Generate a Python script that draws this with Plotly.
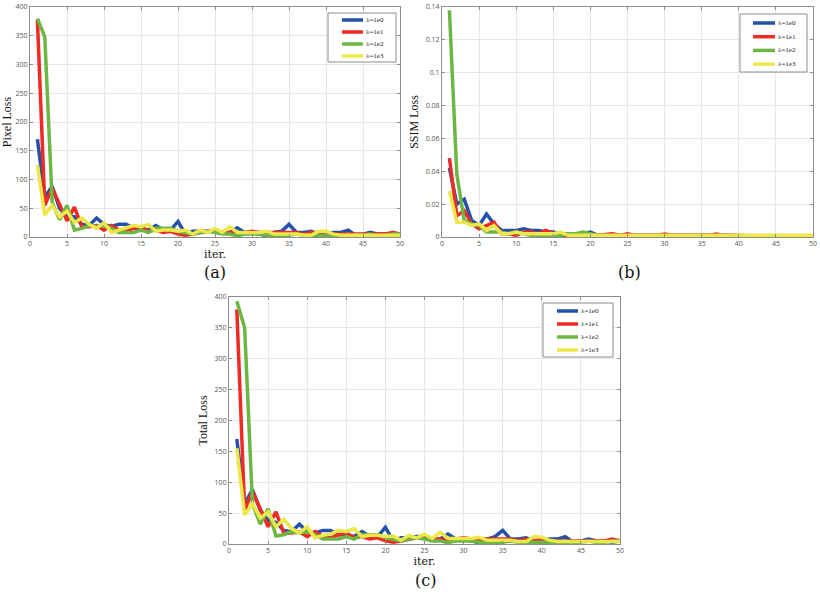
import plotly.graph_objects as go

iters = list(range(1, 51))
labels = ["λ=1e0", "λ=1e1", "λ=1e2", "λ=1e3"]
colors = ["#2352a8", "#ee2b25", "#6cb644", "#ece84a"]

# (a) Pixel Loss
pix_1e0 = [170, 70, 88, 50, 35, 35, 22, 20, 33, 22, 18, 22, 22, 15, 15, 12, 20, 12, 12, 27,
           5, 10, 10, 10, 12, 8, 8, 16, 8, 8, 5, 2, 8, 10, 22, 8, 8, 10, 5, 5,
           8, 8, 12, 3, 5, 8, 5, 5, 3, 5]
pix_1e1 = [378, 55, 85, 55, 28, 52, 18, 18, 20, 12, 20, 12, 10, 15, 18, 10, 12, 8, 10, 5,
           3, 5, 8, 10, 10, 8, 8, 5, 8, 10, 8, 8, 8, 8, 8, 8, 5, 8, 5, 8,
           5, 5, 5, 5, 5, 5, 5, 5, 8, 5]
pix_1e2 = [380, 348, 60, 30, 55, 12, 15, 20, 18, 20, 15, 8, 8, 8, 12, 8, 15, 15, 15, 10,
           8, 5, 8, 10, 8, 5, 5, 2, 5, 5, 5, 3, 3, 3, 3, 5, 3, 3, 3, 3,
           3, 3, 3, 3, 3, 5, 2, 3, 5, 5]
pix_1e3 = [125, 38, 55, 35, 45, 25, 33, 22, 15, 25, 8, 12, 15, 20, 18, 22, 10, 12, 12, 10,
           12, 5, 12, 8, 15, 8, 18, 8, 8, 8, 8, 10, 5, 5, 5, 5, 3, 3, 10, 10,
           5, 3, 3, 3, 3, 3, 3, 3, 3, 3]

# (b) SSIM Loss
ssim_1e0 = [0.042, 0.020, 0.023, 0.010, 0.007, 0.014, 0.008, 0.004, 0.004, 0.004,
            0.005, 0.004, 0.004, 0.003, 0.003, 0.002, 0.002, 0.002, 0.002, 0.003,
            0.001, 0.001, 0.001, 0.001, 0.001, 0.001, 0.001, 0.0015, 0.001, 0.001,
            0.001, 0.001, 0.001, 0.001, 0.0015, 0.001, 0.001, 0.001, 0.001, 0.0008,
            0.0008, 0.0008, 0.0008, 0.0008, 0.0008, 0.001, 0.0008, 0.0008, 0.0008, 0.0008]
ssim_1e1 = [0.048, 0.013, 0.016, 0.008, 0.005, 0.007, 0.009, 0.002, 0.002, 0.001,
            0.003, 0.003, 0.002, 0.004, 0.002, 0.001, 0.001, 0.001, 0.001, 0.001,
            0.001, 0.0015, 0.002, 0.001, 0.002, 0.001, 0.001, 0.001, 0.001, 0.0018,
            0.001, 0.001, 0.001, 0.001, 0.001, 0.001, 0.0018, 0.001, 0.001, 0.0008,
            0.0008, 0.0008, 0.0008, 0.0008, 0.0008, 0.0008, 0.0008, 0.0008, 0.0012, 0.0008]
ssim_1e2 = [0.138, 0.038, 0.010, 0.008, 0.007, 0.003, 0.003, 0.003, 0.002, 0.003,
            0.002, 0.001, 0.001, 0.001, 0.001, 0.001, 0.002, 0.002, 0.003, 0.002,
            0.001, 0.0008, 0.0008, 0.0008, 0.0008, 0.0005, 0.0005, 0.0005, 0.0005, 0.0005,
            0.0005, 0.0005, 0.0005, 0.0005, 0.0005, 0.0005, 0.0005, 0.0005, 0.0005, 0.0005,
            0.0005, 0.0005, 0.0005, 0.0005, 0.0005, 0.0005, 0.0005, 0.0005, 0.0005, 0.0005]
ssim_1e3 = [0.028, 0.009, 0.009, 0.007, 0.008, 0.004, 0.007, 0.002, 0.002, 0.003,
            0.002, 0.002, 0.002, 0.002, 0.002, 0.003, 0.001, 0.001, 0.001, 0.001,
            0.001, 0.001, 0.001, 0.001, 0.001, 0.001, 0.001, 0.001, 0.001, 0.001,
            0.001, 0.001, 0.001, 0.001, 0.001, 0.001, 0.001, 0.001, 0.001, 0.001,
            0.001, 0.001, 0.001, 0.001, 0.001, 0.001, 0.0012, 0.001, 0.001, 0.001]

# (c) Total Loss
tot_1e0 = [170, 65, 88, 55, 38, 35, 22, 20, 32, 20, 18, 22, 22, 15, 15, 12, 20, 12, 12, 27,
           5, 10, 10, 12, 12, 8, 8, 16, 8, 8, 5, 2, 8, 12, 22, 8, 8, 10, 5, 5,
           8, 8, 12, 3, 5, 8, 5, 5, 3, 5]
tot_1e1 = [380, 55, 85, 55, 28, 52, 18, 18, 20, 12, 20, 12, 10, 15, 18, 10, 12, 8, 10, 5,
           3, 5, 8, 10, 10, 8, 8, 5, 8, 10, 8, 8, 8, 8, 8, 8, 5, 8, 5, 8,
           5, 5, 5, 5, 5, 5, 5, 5, 8, 5]
tot_1e2 = [393, 350, 65, 32, 57, 13, 15, 20, 18, 20, 15, 8, 8, 8, 12, 8, 15, 15, 15, 10,
           8, 5, 8, 10, 8, 5, 5, 2, 5, 5, 5, 3, 3, 3, 3, 5, 3, 3, 3, 3,
           3, 3, 3, 3, 3, 5, 2, 3, 5, 5]
tot_1e3 = [155, 47, 65, 42, 52, 28, 40, 25, 18, 28, 10, 14, 16, 22, 20, 25, 12, 14, 14, 12,
           13, 6, 14, 10, 16, 9, 19, 9, 9, 9, 9, 11, 6, 6, 6, 6, 4, 4, 12, 11,
           6, 4, 4, 4, 4, 4, 4, 4, 4, 4]

panels = [
    ([pix_1e0, pix_1e1, pix_1e2, pix_1e3], "x", "y"),
    ([ssim_1e0, ssim_1e1, ssim_1e2, ssim_1e3], "x2", "y2"),
    ([tot_1e0, tot_1e1, tot_1e2, tot_1e3], "x3", "y3"),
]

fig = go.Figure()
for series, xa, ya in panels:
    for vals, name, col in zip(series, labels, colors):
        fig.add_trace(go.Scatter(x=iters, y=vals, mode="lines", name=name,
                                 line=dict(color=col, width=3.5),
                                 xaxis=xa, yaxis=ya, showlegend=False))

W, H = 820, 594
def px(v):
    return v / W
def py(v):
    return 1 - v / H
def dx(a, b):
    return [px(a), px(b)]
def dy(top, bot):
    return [py(bot), py(top)]

tickfont = dict(family="Open Sans, sans-serif", size=7, color="#555555")
common_x = dict(range=[0, 50], tickvals=list(range(0, 51, 5)), showgrid=True,
                gridcolor="#e6e6e6", gridwidth=1, showline=True, linecolor="#8c8c8c",
                linewidth=1, mirror="allticks", ticks="inside", ticklen=3,
                tickcolor="#8c8c8c", tickfont=tickfont, zeroline=False, automargin=False)
common_y = dict(showgrid=True, gridcolor="#e6e6e6", gridwidth=1, showline=True,
                linecolor="#8c8c8c", linewidth=1, mirror="allticks", ticks="inside",
                ticklen=3, tickcolor="#8c8c8c", tickfont=tickfont, zeroline=False,
                automargin=False)

ytitle_font = dict(family="Liberation Serif, serif", size=12, color="#111111")
xtitle_font = dict(family="DejaVu Serif, serif", size=11, color="#111111")

fig.update_layout(
    width=W, height=H,
    margin=dict(l=0, r=0, t=0, b=0),
    paper_bgcolor="white", plot_bgcolor="white",
    xaxis=dict(common_x, domain=dx(30, 400), anchor="y",
               title=dict(text="iter.", font=xtitle_font, standoff=2)),
    yaxis=dict(common_y, domain=dy(7, 237), anchor="x", range=[0, 400],
               tickvals=list(range(0, 401, 50)),
               title=dict(text="Pixel Loss", font=ytitle_font, standoff=4)),
    xaxis2=dict(common_x, domain=dx(442, 813), anchor="y2"),
    yaxis2=dict(common_y, domain=dy(7, 237), anchor="x2", range=[0, 0.14],
                tickvals=[0, 0.02, 0.04, 0.06, 0.08, 0.1, 0.12, 0.14],
                ticktext=["0", "0.02", "0.04", "0.06", "0.08", "0.1", "0.12", "0.14"],
                title=dict(text="SSIM Loss", font=ytitle_font, standoff=4)),
    xaxis3=dict(common_x, domain=dx(229, 620), anchor="y3",
                title=dict(text="iter.", font=xtitle_font, standoff=2)),
    yaxis3=dict(common_y, domain=dy(297, 544), anchor="x3", range=[0, 400],
                tickvals=list(range(0, 401, 50)),
                title=dict(text="Total Loss", font=ytitle_font, standoff=4)),
    showlegend=False,
)

# legend boxes: (box left, top, right, bottom, line x0, line x1, first row y, row step)
legend_boxes = [
    (328, 13, 396, 62, 342, 363, 20, 12),
    (740, 14, 807, 72, 753, 775, 23, 13.7),
    (543, 303, 613, 357, 557, 578, 311, 13),
]
leg_font = dict(family="Liberation Serif, serif", size=7, color="#222222")
shapes = []
for (l, t, r, b, lx0, lx1, y0, step) in legend_boxes:
    shapes.append(dict(type="rect", xref="paper", yref="paper",
                       x0=px(l), x1=px(r), y0=py(b), y1=py(t),
                       line=dict(color="#8c8c8c", width=1), fillcolor="white", layer="above"))
    for i, (name, col) in enumerate(zip(labels, colors)):
        yy = y0 + i * step
        shapes.append(dict(type="line", xref="paper", yref="paper",
                           x0=px(lx0), x1=px(lx1), y0=py(yy), y1=py(yy),
                           line=dict(color=col, width=3.5), layer="above"))
        fig.add_annotation(text=name, x=px(lx1 + 1), y=py(yy), xref="paper", yref="paper",
                           showarrow=False, font=leg_font, xanchor="left", yanchor="middle")
fig.update_layout(shapes=shapes)

cap_font = dict(family="DejaVu Serif, serif", size=16, color="#111111")
for txt, cx, cy in [("(a)", 215, 272), ("(b)", 629, 272), ("(c)", 425, 580)]:
    fig.add_annotation(text=txt, x=px(cx), y=py(cy), xref="paper", yref="paper",
                       showarrow=False, font=cap_font, xanchor="center", yanchor="middle")

fig.write_html("out.html", config={"displayModeBar": False},
               post_script="document.body.style.margin='0px';document.body.style.overflow='hidden';")
